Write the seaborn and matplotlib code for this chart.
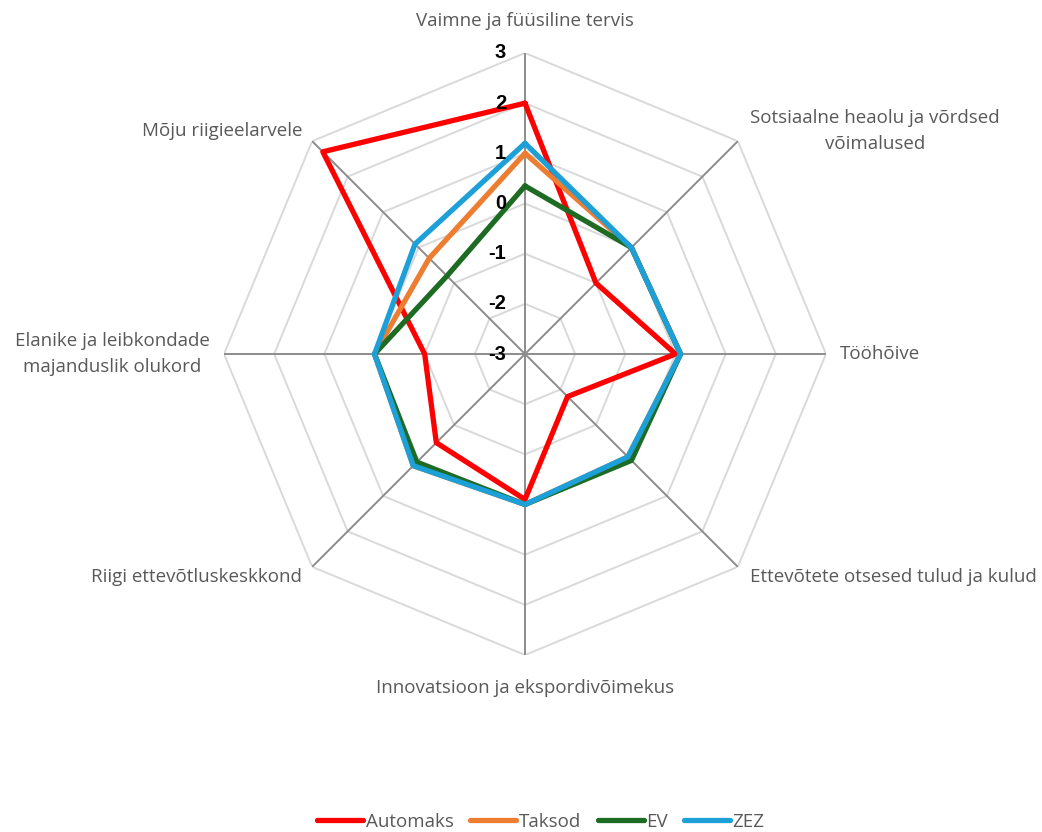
import numpy as np
import pandas as pd
import matplotlib
matplotlib.use("Agg")
import matplotlib.pyplot as plt
from matplotlib.transforms import offset_copy
import seaborn as sns

categories = [
    "Vaimne ja füüsiline tervis",
    "Sotsiaalne heaolu ja võrdsed\nvõimalused",
    "Tööhõive",
    "Ettevõtete otsesed tulud ja kulud",
    "Innovatsioon ja ekspordivõimekus",
    "Riigi ettevõtluskeskkond",
    "Elanike ja leibkondade\nmajanduslik olukord",
    "Mõju riigieelarvele",
]
automaks = [2.0, -1.0, 0.0, -1.8, -0.1, -0.5, -1.0, 2.7]
taksod = [1.0, 0.0, 0.1, -0.1, 0.0, 0.15, 0.0, -0.3]
ev = [0.35, 0.0, 0.1, 0.0, 0.0, 0.05, 0.0, -0.8]
zez = [1.2, 0.0, 0.1, -0.1, 0.0, 0.15, 0.0, 0.1]
series_names = ["Automaks", "Taksod", "EV", "ZEZ"]
series_values = [automaks, taksod, ev, zez]
colors = ["#FF0000", "#ED7D31", "#1E6B24", "#1D9FD8"]
tick_values = [3, 2, 1, 0, -1, -2, -3]

sns.set_theme(style="white")
plt.rcParams["font.family"] = ["Open Sans", "DejaVu Sans"]

n = len(categories)
angles = np.linspace(0, 2 * np.pi, n, endpoint=False)
closed = np.append(angles, 2 * np.pi)

rows = []
for name, vals in zip(series_names, series_values):
    for k, (a, v) in enumerate(zip(closed, list(vals) + [vals[0]])):
        rows.append({"theta": a, "value": v, "series": name, "step": k})
df = pd.DataFrame(rows)

fig = plt.figure(figsize=(10.42, 8.32), dpi=100)
ax = fig.add_axes([224 / 1042, 1 - 655 / 832, 602 / 1042, 602 / 832], projection="polar")
ax.set_theta_zero_location("N")
ax.set_theta_direction(-1)
ax.set_ylim(-3, 3)
ax.grid(False)
ax.set_xticks([])
ax.set_yticks([])
ax.spines["polar"].set_visible(False)

# octagonal rings and spokes
for r in tick_values[:-1]:
    ax.plot(closed, [r] * len(closed), color="#d9d9d9", lw=1.4, zorder=1)
for a in angles:
    ax.plot([a, a], [-3, 3], color="#8c8c8c", lw=1.4, zorder=1.5)

sns.lineplot(data=df, x="theta", y="value", hue="series", hue_order=series_names,
             palette=colors, sort=False, estimator=None, units="series",
             linewidth=3.8, ax=ax, legend=True, zorder=3)
ax.set_xlabel("")
ax.set_ylabel("")
handles, labels = ax.get_legend_handles_labels()
ax.get_legend().remove()
for h in handles:
    h.set_linewidth(3.8)
    h.set_solid_capstyle("round")

# radial value labels along the top spoke
for v in tick_values:
    tr = offset_copy(ax.transData, fig=fig, x=-19, y=0, units="dots")
    ax.text(0, v, str(v), transform=tr, ha="right", va="center",
            fontsize=14.5, fontweight="bold", color="black",
            family=["Liberation Sans", "DejaVu Sans"], zorder=5)

# category labels around the outside
label_pos = [
    (0, 32, "center", "center"),
    (12, 10, "left", "center"),
    (14, 0, "left", "center"),
    (12, -10, "left", "center"),
    (0, -33, "center", "center"),
    (-10, -10, "right", "center"),
    (-14, 0, "right", "center"),
    (-10, 10, "right", "center"),
]
for a, text, (dx, dy, ha, va) in zip(angles, categories, label_pos):
    tr = offset_copy(ax.transData, fig=fig, x=dx, y=dy, units="dots")
    ax.text(a, 3, text, transform=tr, ha=ha, va=va, multialignment="center",
            fontsize=13.5, color="#595959", linespacing=1.55)

fig.legend(handles, labels, loc="center", bbox_to_anchor=(541 / 1042, 1 - 822 / 832),
           ncol=4, frameon=False, handlelength=2.45, handletextpad=0.12,
           columnspacing=0.9, fontsize=13.5, labelcolor="#595959")

fig.savefig("out.png", dpi=100)
